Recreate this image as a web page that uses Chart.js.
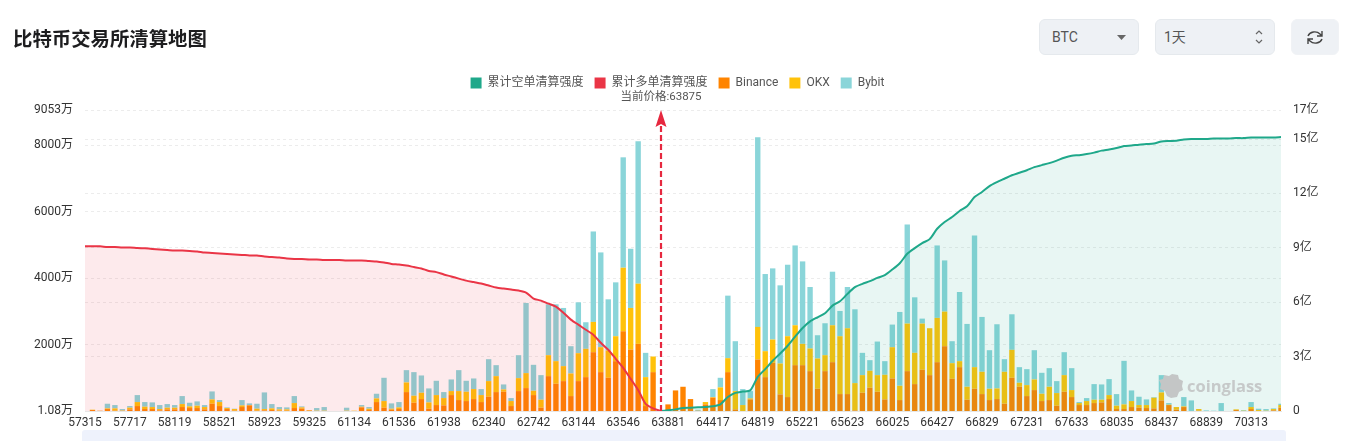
<!DOCTYPE html>
<html>
<head>
<meta charset="utf-8">
<title>比特币交易所清算地图</title>
<script src="https://cdn.jsdelivr.net/npm/chart.js@4"></script>
<style>
  * { box-sizing: border-box; }
  html, body { margin: 0; padding: 0; background: #fff; overflow: hidden; }
  body { width: 1355px; height: 441px; position: relative; font-family: Roboto, "Noto Sans CJK SC", sans-serif; }
  #chart { position: absolute; left: 0; top: 0; }
  h1 { position: absolute; left: 13px; top: 24px; margin: 0; font-size: 19.4px; line-height: 28px; font-weight: 700; color: #1d1d1f; font-family: "Noto Sans CJK SC", sans-serif; }
  .ctl { position: absolute; top: 19px; height: 36px; background: #eef1f5; border: 1px solid #e5e9ed; border-radius: 6px; color: #555; font-size: 14px; line-height: 34px; padding-left: 12px; }
  .ctl svg { position: absolute; }
  #slider { position: absolute; left: 82px; top: 430px; width: 1204px; height: 11px; background: #eef2fc; border-radius: 3px 3px 0 0; }
  #mark { position: absolute; left: 1159px; top: 372px; width: 105px; height: 28px; }
  #mark span { position: absolute; left: 28px; top: 1px; font: 700 16.5px/26px "Open Sans", sans-serif; color: #c6c9c9; }
  #mark svg { position: absolute; left: 0; top: 0; }
</style>
</head>
<body>
<div id="slider"></div>
<canvas id="chart" width="1355" height="441"></canvas>
<h1>比特币交易所清算地图</h1>
<div class="ctl" style="left:1039px;width:100px">BTC
  <svg style="left:76px;top:14px" width="12" height="8"><path d="M1 1h9l-4.5 5z" fill="#666"/></svg>
</div>
<div class="ctl" style="left:1155px;width:120px;padding-left:8px">1天
  <svg style="left:98px;top:9px" width="10" height="16"><path d="M2 5l3-3 3 3M2 11l3 3 3-3" fill="none" stroke="#666" stroke-width="1.2"/></svg>
</div>
<div class="ctl" style="left:1291px;width:48px;border-color:#f0f2f5">
  <svg style="left:14px;top:9px" width="18" height="17" viewBox="0 0 18 17"><path d="M2 7a7 6 0 0 1 12-2l2 2M16 10a7 6 0 0 1-12 2l-2-2M16 2v5h-5M2 15v-5h5" fill="none" stroke="#444" stroke-width="1.4"/></svg>
</div>
<div id="mark">
  <svg width="26" height="28"><path d="M5 3l5 1 3-2 6 1 1 4 4 2-1 5 1 4-4 2-2 5-6 1-4-2-2-5-5-2 1-5-2-4 4-1z" fill="#c4c6c6"/></svg>
  <span>coinglass</span>
</div>
<script>
const categories = [
  '57315','57382','57449','57516','57583','57650','57717','57784','57851','57918',
  '57985','58052','58119','58186','58253','58320','58387','58454','58521','58588',
  '58655','58722','58789','58856','58923','58990','59057','59124','59191','59258',
  '59325','59392','59459','59861','60665','60999','61134','61201','61268','61335',
  '61402','61469','61536','61603','61670','61737','61804','61871','61938','62005',
  '62072','62139','62206','62273','62340','62407','62474','62541','62608','62675',
  '62742','62809','62876','62943','63010','63077','63144','63211','63278','63345',
  '63412','63479','63546','63613','63680','63747','63814','63875','63881','63948',
  '64015','64149','64216','64350','64417','64484','64551','64618','64685','64752',
  '64819','64886','64953','65020','65087','65154','65221','65288','65355','65422',
  '65489','65556','65623','65690','65757','65824','65891','65958','66025','66092',
  '66159','66226','66293','66360','66427','66494','66561','66628','66695','66762',
  '66829','66896','66963','67030','67097','67164','67231','67298','67365','67432',
  '67499','67566','67633','67700','67767','67834','67901','67968','68035','68102',
  '68169','68236','68303','68370','68437','68504','68571','68638','68705','68772',
  '68839','68906','68973','69107','69375','69911','70313','70380','70447','70514',
  '70581'
];

// stacked bars, unit: 万
const binance = [
  0,30,10,60,10,5,50,150,60,60,
  20,50,50,120,90,90,50,220,150,60,
  10,120,170,10,20,30,10,10,90,70,
  15,0,0,0,0,0,0,110,30,270,
  100,40,60,570,250,360,70,180,170,480,
  330,300,360,270,430,570,580,150,600,690,
  480,100,1050,820,900,450,900,1020,1770,1170,
  1000,1500,2400,1850,2020,150,1170,0,200,620,
  730,360,10,200,400,330,1170,50,0,350,
  1550,1020,1450,500,420,1380,1380,1200,670,1200,
  1470,510,510,20,550,700,580,350,980,330,
  1200,810,1240,1080,1470,1950,970,1320,340,670,
  510,330,360,220,1000,730,450,630,300,330,
  160,580,420,180,180,240,260,360,60,60,
  120,100,90,80,320,180,40,120,0,10,
  0,0,0,0,30,0,60,0,0,20,
  100
];
const okx = [
  0,10,0,20,70,10,50,120,70,60,
  40,50,50,90,50,70,70,130,120,30,
  50,50,10,60,40,50,40,40,150,40,
  15,10,10,0,0,10,10,20,40,110,
  200,30,50,290,210,190,190,300,220,120,
  270,280,300,210,470,480,70,150,390,450,
  130,240,630,680,450,680,840,850,910,750,
  820,750,1910,1250,1810,870,470,0,0,0,
  0,0,0,70,20,380,420,550,180,30,
  980,780,700,930,1830,1200,640,680,910,480,
  1110,1740,1980,820,530,510,500,740,940,430,
  1430,940,1390,1410,1330,1040,470,180,390,650,
  670,340,320,960,840,120,330,320,220,400,
  380,500,210,60,120,100,80,120,100,140,
  180,80,90,320,240,10,80,20,0,50,
  0,0,0,0,20,10,60,30,10,40,
  80
];
const bybit = [
  0,0,0,140,100,45,50,210,140,140,
  120,110,80,240,110,130,60,240,60,20,
  10,160,50,150,500,130,70,60,210,30,
  0,80,110,0,0,90,0,50,50,140,
  700,160,160,370,710,520,420,430,180,350,
  630,330,320,180,660,330,150,90,690,2110,
  780,740,1530,1710,1750,820,1530,800,2720,2850,
  1540,1620,3320,1780,4280,730,0,0,0,0,
  0,0,30,0,240,290,1880,1500,480,220,
  5700,2320,2140,2350,2150,2400,2480,1850,700,960,
  1610,760,1240,2220,670,320,1010,410,680,2220,
  2980,1670,150,0,2180,1540,660,2080,1890,3960,
  1650,1160,1930,380,1070,470,480,880,630,560,
  360,690,660,30,90,470,460,480,350,1310,
  320,250,170,20,520,50,0,280,320,0,
  20,10,240,0,0,20,150,40,50,20,
  40
];

// cumulative lines, unit: 亿. Long side runs up to the current price, short side from it.
const longIntensity = [
  9.08,9.08,9.08,9.05,9.05,9.02,9.02,8.99,8.97,8.94,
  8.91,8.88,8.85,8.85,8.83,8.80,8.74,8.72,8.69,8.66,
  8.63,8.61,8.58,8.58,8.52,8.49,8.47,8.41,8.38,8.38,
  8.36,8.36,8.33,8.33,8.33,8.30,8.30,8.30,8.27,8.25,
  8.19,8.11,8.08,8.02,7.94,7.86,7.72,7.66,7.53,7.42,
  7.30,7.19,7.11,7.03,6.92,6.81,6.75,6.70,6.64,6.53,
  6.20,6.09,5.92,5.76,5.42,5.04,4.76,4.48,4.21,3.76,
  3.38,2.88,2.38,1.77,1.16,0.39,0.14,0
];
const shortIntensity = [
  0,0.04,0.09,0.17,0.18,0.20,0.22,0.26,0.37,0.77,
  1.00,1.07,1.14,1.88,2.31,2.77,3.17,3.60,4.10,4.58,
  4.94,5.17,5.39,5.81,6.05,6.46,6.83,7.01,7.16,7.34,
  7.49,7.80,8.15,8.67,8.98,9.26,9.48,10.05,10.42,10.70,
  11.03,11.29,11.80,12.08,12.40,12.62,12.81,13.00,13.14,13.28,
  13.45,13.56,13.67,13.81,13.97,14.08,14.11,14.17,14.25,14.36,
  14.42,14.50,14.61,14.64,14.69,14.72,14.75,14.86,14.89,14.91,
  14.97,15.00,15.00,15.00,15.03,15.03,15.03,15.05,15.05,15.08,
  15.08,15.08,15.08,15.11
];

const leftTicks = [1.08, 2000, 4000, 6000, 8000, 9053];
const rightTicks = [0, 3, 6, 9, 12, 15, 16.6];
const currentPrice = '63875';

const fontFamily = 'Roboto, "Noto Sans CJK SC", sans-serif';
const currentIdx = categories.indexOf(currentPrice);

// pad the two cumulative lines out to the full category range
const longLine = longIntensity.concat(new Array(categories.length - longIntensity.length).fill(null));
const shortLine = new Array(currentIdx).fill(null).concat(shortIntensity);

// extra room under the legend for the price marker
const legendSpacer = {
  id: 'legendSpacer',
  beforeInit(chart) {
    const fit = chart.legend.fit;
    chart.legend.fit = function () {
      fit.call(this);
      this.height += 11;
    };
  }
};

// dashed arrow at the current price, with its label on top
const priceArrow = {
  id: 'priceArrow',
  afterDatasetsDraw(chart) {
    const { ctx, scales } = chart;
    const x = Math.round(scales.x.getPixelForValue(currentIdx));
    const bottom = scales.y.bottom;
    const tip = scales.y.top;
    ctx.save();
    ctx.strokeStyle = '#e6283f';
    ctx.fillStyle = '#e6283f';
    ctx.lineWidth = 2.2;
    ctx.setLineDash([6, 3]);
    ctx.beginPath();
    ctx.moveTo(x, bottom);
    ctx.lineTo(x, tip + 14);
    ctx.stroke();
    ctx.setLineDash([]);
    ctx.beginPath();
    ctx.moveTo(x, tip);
    ctx.lineTo(x + 5.5, tip + 17);
    ctx.lineTo(x, tip + 14);
    ctx.lineTo(x - 5.5, tip + 17);
    ctx.closePath();
    ctx.fill();
    ctx.fillStyle = '#555';
    ctx.font = '11.5px ' + fontFamily;
    ctx.textAlign = 'center';
    ctx.textBaseline = 'middle';
    ctx.fillText('当前价格:' + currentPrice, x, tip - 13);
    ctx.restore();
  }
};

const barSet = (label, data, color) => ({
  type: 'bar',
  label: label,
  data: data,
  yAxisID: 'y',
  backgroundColor: color,
  borderColor: color,
  borderWidth: 0,
  barPercentage: 0.72,
  categoryPercentage: 1,
  order: 2
});

const lineSet = (label, data, color, fill, order) => ({
  type: 'line',
  label: label,
  data: data,
  yAxisID: 'y1',
  borderColor: color,
  backgroundColor: fill,
  borderWidth: 2,
  pointRadius: 0,
  tension: 0.25,
  fill: 'origin',
  order: order
});

const gridStyle = {
  color: '#ececec',
  lineWidth: 1,
  drawTicks: false
};

new Chart(document.getElementById('chart').getContext('2d'), {
  data: {
    labels: categories,
    datasets: [
      lineSet('累计空单清算强度', shortLine, '#1fa88a', 'rgba(31,168,138,0.1)', 0),
      lineSet('累计多单清算强度', longLine, '#ea3546', 'rgba(234,53,70,0.1)', 1),
      barSet('Binance', binance, '#ff8400'),
      barSet('OKX', okx, '#ffc20a'),
      barSet('Bybit', bybit, '#8ad5d9')
    ]
  },
  options: {
    responsive: false,
    animation: false,
    layout: { padding: { top: 66 } },
    plugins: {
      tooltip: { enabled: false },
      legend: {
        position: 'top',
        labels: {
          boxWidth: 11,
          boxHeight: 11,
          padding: 11,
          color: '#555',
          font: { family: fontFamily, size: 12 },
          generateLabels(chart) {
            return Chart.defaults.plugins.legend.labels.generateLabels(chart).map(item => {
              item.fillStyle = item.strokeStyle;
              item.lineWidth = 0;
              return item;
            });
          }
        }
      }
    },
    scales: {
      x: {
        stacked: true,
        offset: false,
        grid: { display: false, drawTicks: false },
        border: { color: '#e6e6e6' },
        ticks: {
          autoSkip: false,
          maxRotation: 0,
          minRotation: 0,
          padding: 5,
          color: '#333',
          font: { family: fontFamily, size: 12 },
          callback: (v, i) => (i % 6 === 0 ? categories[i] : '')
        },
        afterFit: s => { s.height = 30; }
      },
      y: {
        stacked: true,
        min: 1.08,
        max: 9053,
        position: 'left',
        grid: gridStyle,
        border: { display: false, dash: [3, 3] },
        afterBuildTicks: s => { s.ticks = leftTicks.map(v => ({ value: v })); },
        afterFit: s => { s.width = 85; },
        ticks: {
          padding: 12,
          color: '#333',
          font: { family: fontFamily, size: 12 },
          callback: v => v + '万'
        }
      },
      y1: {
        min: 0,
        max: 16.6,
        position: 'right',
        grid: gridStyle,
        border: { display: false, dash: [3, 3] },
        afterBuildTicks: s => { s.ticks = rightTicks.map(v => ({ value: v })); },
        afterFit: s => { s.width = 74; },
        ticks: {
          padding: 12,
          color: '#333',
          font: { family: fontFamily, size: 12 },
          callback: v => (v === 0 ? '0' : Math.round(v) + '亿')
        }
      }
    }
  },
  plugins: [legendSpacer, priceArrow]
});
</script>
</body>
</html>
